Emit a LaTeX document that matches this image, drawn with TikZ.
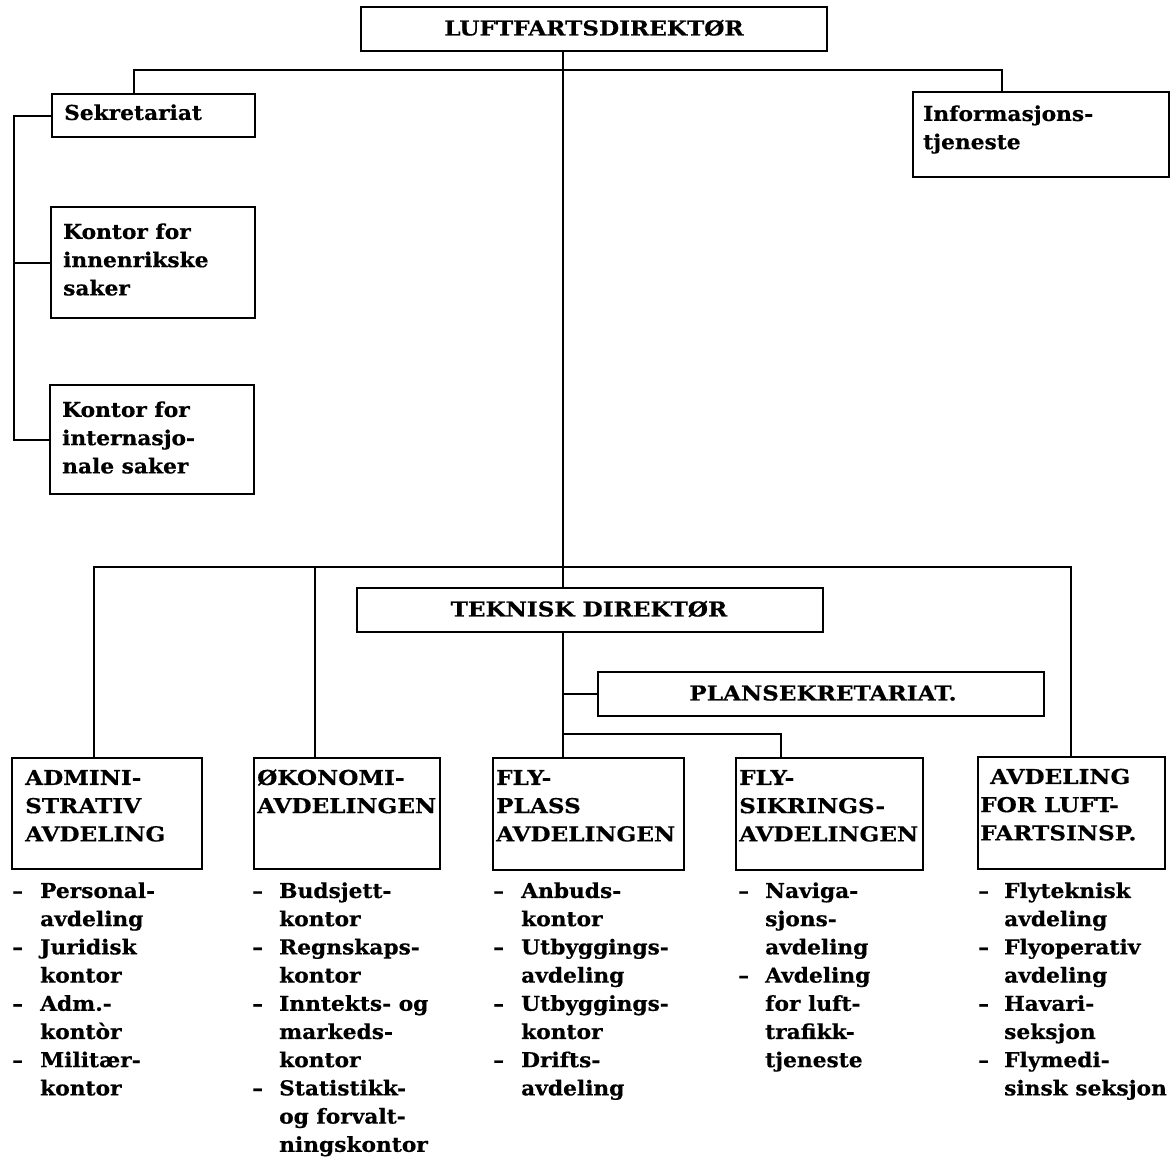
\documentclass[tikz,border=0pt]{standalone}
\usepackage{fontspec}
\newfontfamily\orgfont[FakeStretch=1.06, BoldFeatures={FakeBold=0.5}]{DejaVu Serif}
\newfontfamily\capfont[FakeStretch=1.13, BoldFeatures={FakeBold=0.5}]{DejaVu Serif}
\usepackage{array}
\newcommand\of{\orgfont\bfseries\fontsize{20.5}{28.2}\selectfont}
\newcommand\cf{\capfont\bfseries\fontsize{20.5}{28.2}\selectfont}
\newcommand\tl[1]{\begin{tabular}{@{}l@{}}#1\end{tabular}}
\newcommand\dl[2][28pt]{\begin{tabular}{@{}p{#1}@{}l@{}}#2\end{tabular}}
\begin{document}
\begin{tikzpicture}[x=1pt,y=-1pt,
  box/.style={draw, line width=2.2pt, inner sep=0pt, anchor=north west},
  lbl/.style={inner sep=0pt, anchor=north west, font=\of},
  clbl/.style={inner sep=0pt, anchor=north west, font=\cf},
  ttl/.style={inner sep=0pt, font=\cf},
  conn/.style={line width=2.2pt}]
\useasboundingbox[fill=white] (0,0) rectangle (1174,1159);

% boxes
\node[box, minimum width=466pt, minimum height=44pt] (luft) at (360,6) {};
\node[box, minimum width=203pt, minimum height=43pt] (sek) at (51,93) {};
\node[box, minimum width=256pt, minimum height=85pt] (info) at (912,91) {};
\node[box, minimum width=204pt, minimum height=111pt] (kinn) at (50,206) {};
\node[box, minimum width=204pt, minimum height=109pt] (kint) at (49,384) {};
\node[box, minimum width=466pt, minimum height=44pt] (tek) at (356,587) {};
\node[box, minimum width=446pt, minimum height=44pt] (plan) at (597,671) {};
\node[box, minimum width=190pt, minimum height=111pt] (adm) at (11,757) {};
\node[box, minimum width=186pt, minimum height=111pt] (oko) at (253,757) {};
\node[box, minimum width=191pt, minimum height=112pt] (fpl) at (492,757) {};
\node[box, minimum width=187pt, minimum height=112pt] (fsi) at (735,757) {};
\node[box, minimum width=187pt, minimum height=112pt] (avd) at (977,756) {};

% box texts
\node[ttl] (luftt) at (594,28) {LUFTFARTSDIREKTØR};
\node[ttl] (tekt) at (589,609) {TEKNISK DIREKTØR};
\node[ttl] (plant) at (823,693) {PLANSEKRETARIAT.};
\node[lbl] (sekt) at (64,100) {\tl{Sekretariat}};
\node[lbl] (infot) at (923,101) {\tl{Informasjons-\\tjeneste}};
\node[lbl] (kinnt) at (63,219) {\tl{Kontor for\\innenrikske\\saker}};
\node[lbl] (kintt) at (62,397) {\tl{Kontor for\\internasjo-\\nale saker}};
\node[clbl] (admt) at (25,765) {\tl{ADMINI-\\STRATIV\\AVDELING}};
\node[clbl] (okot) at (257,765) {\tl{ØKONOMI-\\AVDELINGEN}};
\node[clbl] (fplt) at (496,765) {\tl{FLY-\\PLASS\\AVDELINGEN}};
\node[clbl] (fsit) at (739,765) {\tl{FLY-\\SIKRINGS-\\AVDELINGEN}};
\node[clbl] (avdt) at (980,764) {\tl{\hspace*{10pt}AVDELING\\FOR LUFT-\\FARTSINSP.}};

% lists
\node[lbl] (admL) at (12,878) {\dl{–&Personal-\\&avdeling\\–&Juridisk\\&kontor\\–&Adm.-\\&kontòr\\–&Militær-\\&kontor}};
\node[lbl] (okoL) at (252,878) {\dl[27pt]{–&Budsjett-\\&kontor\\–&Regnskaps-\\&kontor\\–&Inntekts- og\\&markeds-\\&kontor\\–&Statistikk-\\&og forvalt-\\&ningskontor}};
\node[lbl] (fplL) at (493,878) {\dl{–&Anbuds-\\&kontor\\–&Utbyggings-\\&avdeling\\–&Utbyggings-\\&kontor\\–&Drifts-\\&avdeling}};
\node[lbl] (fsiL) at (738,878) {\dl[27pt]{–&Naviga-\\&sjons-\\&avdeling\\–&Avdeling\\&for luft-\\&trafikk-\\&tjeneste}};
\node[lbl] (avdL) at (978,878) {\dl[26pt]{–&Flyteknisk\\&avdeling\\–&Flyoperativ\\&avdeling\\–&Havari-\\&seksjon\\–&Flymedi-\\&sinsk seksjon}};

% connectors
\coordinate (cx) at (563,0);
\coordinate (xs) at (134,70);
\coordinate (xi) at (1002,70);
\coordinate (bt) at (14,0);
\coordinate (ya) at (94,567);
\coordinate (yo) at (315,567);
\coordinate (yv) at (1071,567);
\coordinate (fs) at (781,734);

\draw[conn] (luft.south -| cx) -- (tek.north -| cx);
\draw[conn] (sek.north -| xs) -- (xs) -- (xi) -- (info.north -| xi);
\draw[conn] (sek.west) -- (sek.west -| bt) -- (kint.west -| bt) -- (kint.west);
\draw[conn] (kinn.west -| bt) -- (kinn.west);
\draw[conn] (adm.north -| ya) -- (ya) -- (yv) -- (avd.north -| yv);
\draw[conn] (yo) -- (oko.north -| yo);
\draw[conn] (tek.south -| cx) -- (fpl.north -| cx);
\draw[conn] (plan.west -| cx) -- (plan.west);
\draw[conn] (cx |- fs) -- (fs) -- (fsi.north -| fs);
\end{tikzpicture}
\end{document}
